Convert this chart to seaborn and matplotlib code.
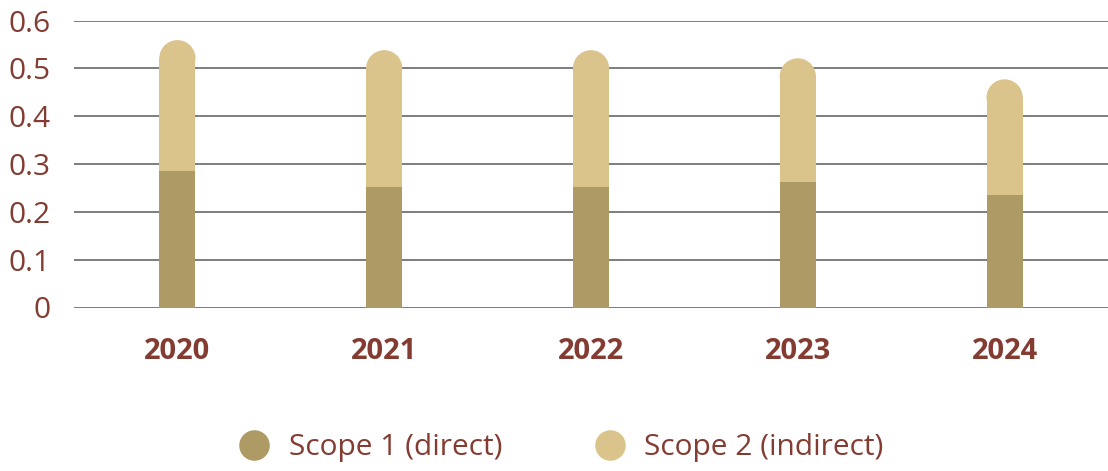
import matplotlib
matplotlib.use("Agg")
import matplotlib.pyplot as plt
from matplotlib.patches import Ellipse
from matplotlib.lines import Line2D
import seaborn as sns
import numpy as np
import pandas as pd

years = ["2020", "2021", "2022", "2023", "2024"]
scope1 = [0.285, 0.252, 0.252, 0.262, 0.236]
scope2 = [0.274, 0.286, 0.286, 0.259, 0.241]
series_labels = ["Scope 1 (direct)", "Scope 2 (indirect)"]
yticks = [0, 0.1, 0.2, 0.3, 0.4, 0.5, 0.6]
ytick_labels = ["0", "0.1", "0.2", "0.3", "0.4", "0.5", "0.6"]

c1 = "#AE9A64"
c2 = "#DBC48C"
txt = "#843C32"

sns.set_theme(style="white")
plt.rcParams["font.family"] = ["Open Sans", "DejaVu Sans"]

df = pd.DataFrame({"year": years, "s1": scope1, "s2": scope2})
df["total"] = df["s1"] + df["s2"]

fig = plt.figure(figsize=(11.08, 4.71), dpi=100)
ax = fig.add_axes([74 / 1108, 1 - 307.5 / 471, 1 - 74 / 1108, (307.5 - 20.5) / 471])

bw = 0.175
sns.barplot(data=df, x="year", y="total", color=c2, width=bw, ax=ax, saturation=1, zorder=3)
n_top = len(ax.patches)
sns.barplot(data=df, x="year", y="s1", color=c1, width=bw, ax=ax, saturation=1, zorder=4)

ax.set_xlim(-0.5, len(years) - 0.5)
ax.set_ylim(0, 0.6)

# rounded caps on the top (total) bars
fig.canvas.draw()
inv = ax.transData.inverted()
for p in ax.patches[:n_top]:
    x0, w = p.get_x(), p.get_width()
    top = p.get_y() + p.get_height()
    px_w = ax.transData.transform((x0 + w, 0))[0] - ax.transData.transform((x0, 0))[0]
    r_px = px_w / 2
    y0_px = ax.transData.transform((0, 0))[1]
    r_data = inv.transform((0, y0_px + r_px))[1] - inv.transform((0, y0_px))[1]
    p.set_height(p.get_height() - r_data)
    e = Ellipse((x0 + w / 2, top - r_data), w, 2 * r_data, facecolor=c2, edgecolor="none", zorder=3)
    ax.add_patch(e)
for p in ax.patches:
    p.set_linewidth(0)

for yv in yticks:
    ax.axhline(yv, color="#5a5a5a", lw=1.1, zorder=1)

ax.set_yticks(yticks)
ax.set_yticklabels(ytick_labels)
ax.tick_params(axis="y", length=0, pad=17, labelsize=21.5, labelcolor=txt)
ax.tick_params(axis="x", length=0, pad=21, labelsize=21, labelcolor=txt)
for t in ax.get_xticklabels():
    t.set_fontweight("bold")
ax.set_xlabel("")
ax.set_ylabel("")
for s in ax.spines.values():
    s.set_visible(False)

handles = [
    Line2D([], [], marker="o", linestyle="none", markersize=22, markerfacecolor=c1, markeredgecolor="none"),
    Line2D([], [], marker="o", linestyle="none", markersize=22, markerfacecolor=c2, markeredgecolor="none"),
]
leg = fig.legend(handles, series_labels, loc="center", bbox_to_anchor=(0.5, 1 - 448 / 471), ncol=2,
                 frameon=False, fontsize=21.5, handletextpad=0.15, columnspacing=2.6)
for t in leg.get_texts():
    t.set_color(txt)

fig.savefig("out.png", dpi=100)
